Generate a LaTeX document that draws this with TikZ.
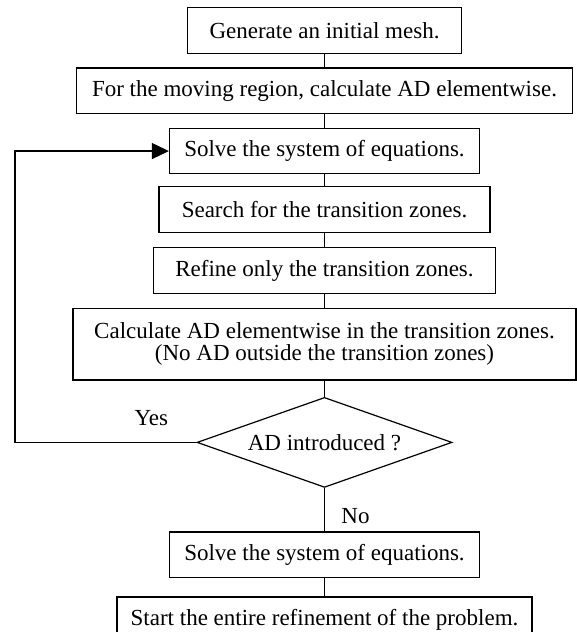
\documentclass[tikz,border=0pt]{standalone}
\usepackage{fontspec}
\setmainfont{Liberation Serif}
\usepackage{tikz}
\usetikzlibrary{arrows.meta,shapes.geometric,positioning}

\begin{document}
\begin{tikzpicture}[x=1pt,y=1pt]
		\tikzstyle{task}=[draw=black, line width=1.2pt, minimum height=45.5pt, inner sep=0pt, align=center, font=\fontsize{23}{22}\selectfont]
		\tikzstyle{decision}=[task, diamond, aspect=2.8, minimum width=255pt, minimum height=90pt]
		\tikzstyle{link}=[draw=black, line width=1.2pt]
		\tikzstyle{flow_label}=[font=\fontsize{23}{22}\selectfont]

		\useasboundingbox (0,0) rectangle (576,-632);

		% main column
		\node [task, minimum width=274pt, minimum height=46pt] (gen) at (324.5,-30.3) {Generate an initial mesh.};
		\node [task, minimum width=496pt] (move) [below=13.4pt of gen] {For the moving region, calculate AD elementwise.};
		\node [task, minimum width=310pt] (solve1) [below=13.7pt of move] {Solve the system of equations.};
		\node [task, minimum width=331pt] (search) [below=11.7pt of solve1] {Search for the transition zones.};
		\node [task, minimum width=342pt] (refine) [below=14.4pt of search] {Refine only the transition zones.};
		\node [task, minimum width=503pt, minimum height=71.7pt] (calc) [below=13.7pt of refine] {Calculate AD elementwise in the transition zones.\\(No AD outside the transition zones)};
		\node [decision] (check) [below=16.3pt of calc] {\raisebox{-5pt}{AD introduced ?}};
		\node [task, minimum width=310pt] (solve2) [below=43.3pt of check] {Solve the system of equations.};
		\node [task, minimum width=415pt, minimum height=46pt] (start) [below=18.3pt of solve2] {Start the entire refinement of the problem.};

		\node [flow_label] (yes) at ([xshift=-45pt,yshift=24pt]check.west) {Yes};
		\node [flow_label] (no) at ([xshift=31pt,yshift=-28pt]check.south) {No};

		\coordinate (back) at (15,-300);

		\path [link] (gen) -- (move);
		\path [link] (move) -- (solve1);
		\path [link] (solve1) -- (search);
		\path [link] (search) -- (refine);
		\path [link] (refine) -- (calc);
		\path [link] (calc) -- (check);
		\path [link] (check) -- (solve2);
		\path [link] (solve2) -- (start);

		% back to the solver
		\draw [link, -{Triangle[length=17pt,width=16pt]}] (check.west) -| (back) |- (solve1.west);

	\end{tikzpicture}
\end{document}
